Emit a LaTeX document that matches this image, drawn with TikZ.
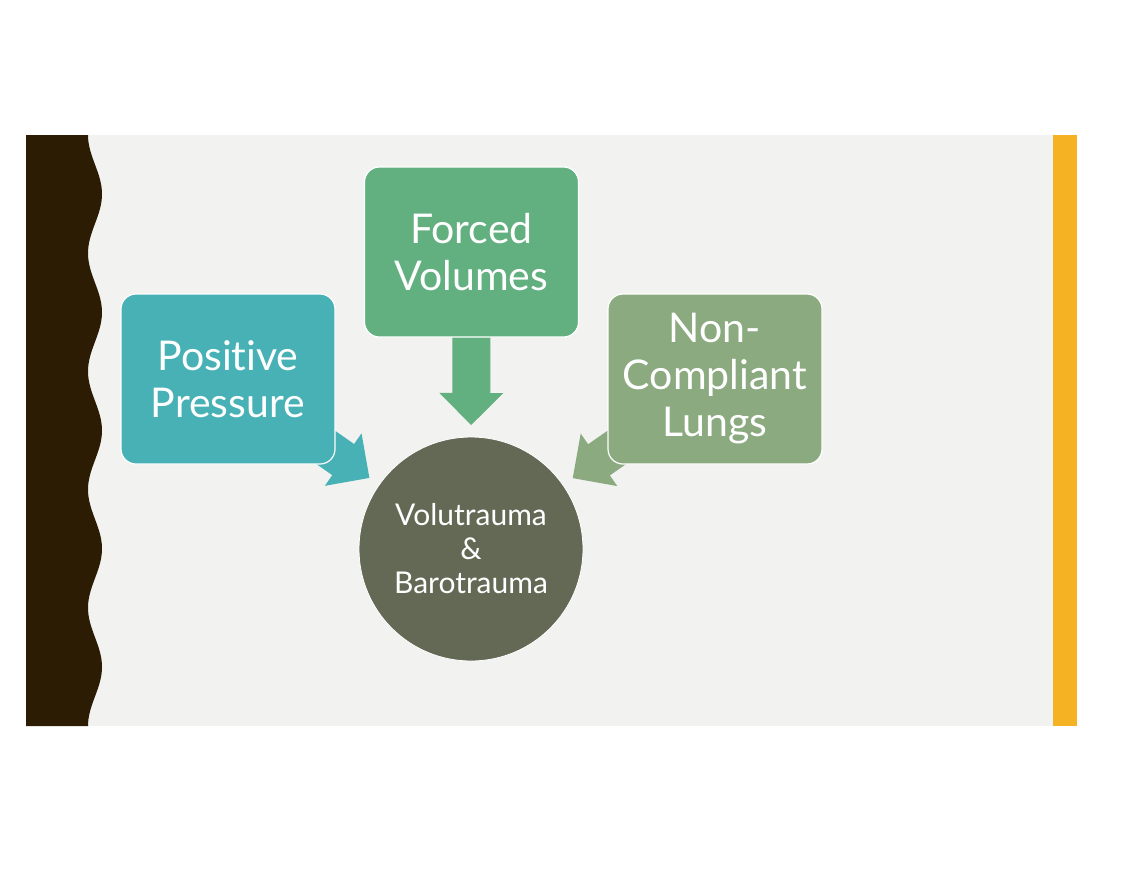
\documentclass[tikz,border=0pt]{standalone}
\usepackage{fontspec}
\setmainfont{Lato}[Ligatures=NoCommon]
\usetikzlibrary{positioning,calc,backgrounds}

\definecolor{slidebg}{HTML}{F2F2F0}
\definecolor{bandbrown}{HTML}{2B1C03}
\definecolor{baryellow}{HTML}{F5B324}
\definecolor{ppteal}{HTML}{47B1B5}
\definecolor{fvgreen}{HTML}{62AF7F}
\definecolor{nclsage}{HTML}{8BAA7F}
\definecolor{hubgray}{HTML}{646955}

% block arrow along the line from #1 to #2, tip just short of #2
\newcommand\blockarrow[3]{%
  \path let \p1=($(#2)-(#1)$) in \pgfextra{\pgfmathsetmacro\arrang{atan2(\y1,\x1)}\global\let\arrang\arrang};
  \coordinate (tip) at ($(#2)!124pt!(#1)$);
  \fill[#3,shift={(tip)},rotate=\arrang] (0,0) -- (-32,32) -- (-32,19) -- (-110,19) -- (-110,-19) -- (-32,-19) -- (-32,-32) -- cycle;}

\begin{document}
\begin{tikzpicture}[x=1pt,y=-1pt,
  box/.style={rectangle,rounded corners=15pt,minimum width=214pt,minimum height=170pt,draw=white,line width=1.2pt,text=white,align=center,font=\fontsize{41}{47}\selectfont},
  hub/.style={circle,fill=hubgray,draw=white,line width=0.8pt,minimum size=224pt,text=white,align=center,font=\fontsize{30}{34}\selectfont}]
\useasboundingbox (0,0) rectangle (1137,879);
% ---- the three causes ----
\node[box,fill=ppteal] (pp) at (228,379) {Positive\\Pressure};
\node[box,fill=fvgreen] (fv) at (471.5,252) {Forced\\Volumes};
\node[box,fill=nclsage] (ncl) at (715,379) {Non-\\Compliant\\Lungs};
% ---- the result ----
\node[hub] (vb) at (471,549) {Volutrauma\\\&\\Barotrauma};
\begin{scope}[on background layer]
% ---- slide ----
\fill[slidebg] (26,135) rectangle (1077,726);
\fill[bandbrown] (26,135) -- plot[domain=135:726,samples=160] ({95-7*cos((\x-135)*3.0457)},\x) -- (26,726) -- cycle;
\fill[baryellow] (1053,135) rectangle (1077,726);
% ---- arrows into the hub ----
\blockarrow{pp}{vb}{ppteal}
\blockarrow{fv}{vb}{fvgreen}
\blockarrow{ncl}{vb}{nclsage}
\end{scope}
\end{tikzpicture}
\end{document}
